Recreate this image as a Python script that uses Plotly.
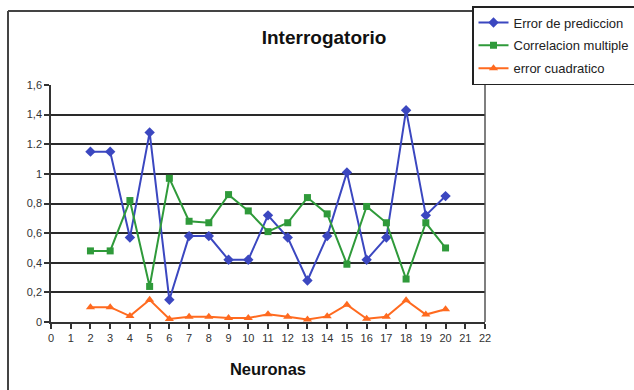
import plotly.graph_objects as go

neuronas = list(range(2, 21))
error_prediccion = [1.15, 1.15, 0.57, 1.28, 0.15, 0.58, 0.58, 0.42, 0.42, 0.72,
                    0.57, 0.28, 0.58, 1.01, 0.42, 0.57, 1.43, 0.72, 0.85]
correlacion_multiple = [0.48, 0.48, 0.82, 0.24, 0.97, 0.68, 0.67, 0.86, 0.75, 0.61,
                        0.67, 0.84, 0.73, 0.39, 0.78, 0.67, 0.29, 0.67, 0.50]
error_cuadratico = [0.10, 0.10, 0.04, 0.15, 0.02, 0.035, 0.035, 0.027, 0.027, 0.052,
                    0.035, 0.017, 0.038, 0.117, 0.022, 0.035, 0.147, 0.05, 0.086]

y_tickvals = [0, 0.2, 0.4, 0.6, 0.8, 1.0, 1.2, 1.4, 1.6]
y_ticktext = ["0", "0,2", "0,4", "0,6", "0,8", "1", "1.2", "1,4", "1,6"]
x_tickvals = list(range(0, 23))

FONT = "Liberation Sans, Arial, sans-serif"

fig = go.Figure()
fig.add_trace(go.Scatter(x=neuronas, y=error_prediccion, name="Error de prediccion",
                         legendgroup="a",
                         mode="lines+markers", line=dict(color="#3b47c0", width=2),
                         marker=dict(symbol="diamond", size=8, color="#3b47c0")))
fig.add_trace(go.Scatter(x=neuronas, y=correlacion_multiple, name="Correlacion multiple",
                         legendgroup="b",
                         mode="lines+markers", line=dict(color="#2f9a3a", width=2),
                         marker=dict(symbol="square", size=7, color="#2f9a3a")))
fig.add_trace(go.Scatter(x=neuronas, y=error_cuadratico, name="error cuadratico",
                         legendgroup="c",
                         mode="lines+markers", line=dict(color="#ff6a1f", width=2),
                         marker=dict(symbol="triangle-up", size=8, color="#ff6a1f")))

fig.update_layout(
    width=634, height=390,
    margin=dict(l=51, r=149, t=85, b=68, autoexpand=False),
    paper_bgcolor="white", plot_bgcolor="white",
    font=dict(family=FONT, color="#222222"),
    title=dict(text="<b>Interrogatorio</b>", x=324 / 634, xanchor="center",
               y=1 - 37 / 390, yanchor="middle", font=dict(size=19, color="#111111")),
    showlegend=True,
    legend=dict(x=(472 - 51) / 434, y=(322 - 6) / 237, xanchor="left", yanchor="top",
                bordercolor="#222222", borderwidth=1.5, bgcolor="white",
                font=dict(size=13, color="#222222"), itemwidth=30,
                traceorder="grouped", tracegroupgap=3, itemsizing="trace"),
    xaxis=dict(range=[0, 22], tickvals=x_tickvals, ticks="outside", ticklen=5,
               tickcolor="#333333", tickwidth=1.5, showgrid=False, zeroline=False,
               showline=True, linecolor="#333333", linewidth=1.5,
               tickfont=dict(size=11, color="#333333"),
               title=dict(text="<b>Neuronas</b>", font=dict(size=16.5, color="#111111"),
                          standoff=20)),
    yaxis=dict(range=[0, 1.6], tickvals=y_tickvals, ticktext=y_ticktext,
               ticks="outside", ticklen=5, tickcolor="#333333", tickwidth=1.5,
               showgrid=True, gridcolor="#2a2a2a", gridwidth=1.6, zeroline=False,
               showline=True, linecolor="#333333", linewidth=1.5, mirror=False,
               tickfont=dict(size=11, color="#333333")),
)

# right border of plot area
fig.add_shape(type="line", xref="paper", yref="paper", x0=1, x1=1, y0=0, y1=1,
              line=dict(color="#555555", width=1.5))
# outer chart-area border (left and top)
x_left = (8 - 51) / 434
y_top = (322 - 11) / 237
y_bot = (322 - 395) / 237
x_leg = (473 - 51) / 434
fig.add_shape(type="line", xref="paper", yref="paper", x0=x_left, x1=x_left,
              y0=y_bot, y1=y_top, line=dict(color="#444444", width=2))
fig.add_shape(type="line", xref="paper", yref="paper", x0=x_left, x1=x_leg,
              y0=y_top, y1=y_top, line=dict(color="#444444", width=2))

fig.write_html("out.html", config={"displayModeBar": False},
               post_script="document.body.style.margin='0px';document.body.style.overflow='hidden';")
